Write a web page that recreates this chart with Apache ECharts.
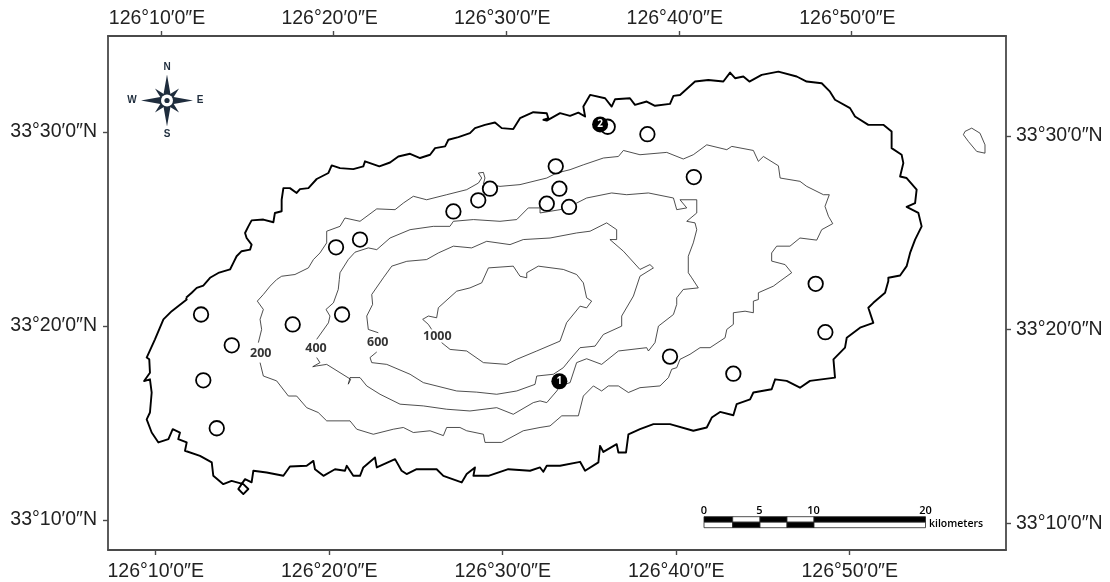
<!DOCTYPE html>
<html><head><meta charset="utf-8">
<style>html,body{margin:0;padding:0;background:#fff}#c{width:1110px;height:582px}</style>
<script src="https://cdn.jsdelivr.net/npm/echarts@6/dist/echarts.min.js"></script>
</head><body><div id="c"></div>
<script>
// All positions: arc-minutes east of 126 deg (x) and north of 33 deg (y)
const lonTicks=[10,20,30,40,50];
const latTicks=[10,20,30];
const coast=[[11.45,21.45],[11.78,21.71],[12.07,21.96],[12.45,22.08],[12.84,22.48],[13.32,22.73],[14.00,22.91],[14.19,23.25],[14.38,23.59],[14.67,23.85],[15.16,23.93],[15.25,24.19],[14.96,24.53],[14.87,24.79],[15.06,25.13],[15.25,25.44],[15.93,25.48],[16.51,25.34],[16.60,25.82],[16.99,25.91],[16.99,26.50],[17.09,27.10],[17.47,27.10],[17.86,26.85],[18.05,27.05],[18.54,27.10],[19.02,27.57],[19.70,27.88],[19.89,28.27],[20.37,28.13],[21.14,28.08],[21.72,28.22],[21.82,28.48],[22.11,28.39],[22.65,28.22],[23.27,28.42],[23.75,28.73],[24.43,28.87],[25.01,28.65],[25.59,28.82],[25.88,29.16],[26.46,29.25],[26.65,29.59],[27.23,29.73],[27.90,29.93],[28.19,30.19],[28.77,30.36],[29.35,30.48],[29.74,30.19],[30.41,30.14],[30.80,30.70],[31.57,31.01],[32.35,30.96],[32.44,30.70],[32.15,30.62],[32.35,30.58],[33.12,30.96],[33.70,30.82],[34.18,30.99],[34.57,30.79],[34.47,31.30],[34.86,31.90],[35.73,31.73],[36.11,31.30],[36.31,31.68],[37.17,31.73],[37.46,31.39],[38.14,31.56],[38.62,31.34],[39.49,31.44],[39.69,31.85],[40.07,31.90],[40.94,32.59],[41.71,32.67],[42.58,32.59],[42.97,33.05],[43.26,32.76],[43.74,32.85],[44.09,32.59],[44.80,32.93],[45.77,33.10],[46.83,32.85],[47.41,32.59],[48.28,32.50],[48.76,32.07],[49.05,31.65],[49.92,31.22],[50.21,30.79],[50.98,30.36],[51.85,30.36],[52.33,30.02],[52.33,29.16],[52.91,28.82],[53.01,28.39],[52.82,27.70],[53.20,27.62],[53.78,27.02],[53.69,26.33],[53.20,26.13],[53.88,25.82],[54.07,25.13],[53.69,24.45],[53.40,23.76],[53.20,23.08],[52.82,22.60],[52.14,22.48],[52.14,22.31],[51.95,21.71],[51.27,21.19],[50.98,20.94],[51.27,20.16],[50.50,19.91],[49.73,19.39],[49.63,18.88],[48.96,18.28],[49.05,17.34],[47.60,17.17],[47.02,16.82],[46.25,17.17],[45.58,17.25],[45.38,16.74],[44.32,16.57],[44.13,16.22],[43.35,15.97],[43.16,15.40],[42.39,15.57],[41.91,15.28],[41.62,14.77],[40.84,14.60],[39.49,14.94],[38.53,14.94],[37.75,14.68],[37.08,14.42],[36.94,13.48],[36.50,13.48],[36.40,13.91],[35.63,13.51],[35.44,13.82],[35.34,12.97],[34.57,12.54],[34.28,13.00],[33.12,12.80],[32.35,12.80],[32.15,12.49],[31.96,12.71],[31.38,12.54],[30.12,12.62],[28.97,12.28],[28.10,12.28],[28.19,12.71],[27.71,12.37],[27.42,11.94],[26.36,12.28],[25.97,12.62],[24.81,12.62],[24.23,12.37],[23.94,12.54],[23.56,13.14],[22.50,12.71],[22.40,13.22],[21.72,12.71],[21.53,12.28],[21.14,12.28],[20.76,12.80],[20.66,12.54],[20.08,12.62],[19.41,12.28],[18.92,12.62],[18.83,13.05],[18.44,12.80],[17.47,12.76],[17.09,12.28],[16.12,12.45],[15.35,12.54],[15.25,11.94],[14.87,12.11],[14.67,11.85],[14.48,11.60],[14.77,11.34],[15.06,11.60],[14.77,11.85],[14.09,12.02],[13.61,11.85],[13.03,12.28],[12.94,12.97],[12.26,13.31],[11.39,13.57],[11.49,14.00],[11.00,14.17],[11.10,14.51],[10.68,14.68],[10.43,14.17],[9.85,14.00],[9.46,14.51],[9.17,15.19],[9.36,15.54],[9.46,16.57],[9.36,17.25],[9.02,17.16],[9.36,17.59],[9.32,18.28],[9.17,18.37],[9.65,19.31],[10.14,20.34],[10.62,20.76],[11.49,21.36],[11.45,21.45]];
const islet=[[56.58,30.02],[56.97,30.19],[57.45,29.93],[57.74,29.33],[57.74,28.90],[57.26,28.99],[56.78,29.50],[56.49,29.85],[56.58,30.02]];
const contour200=[[15.64,19.14],[15.83,19.82],[15.74,20.34],[15.93,20.85],[15.58,21.28],[15.93,21.62],[16.32,22.05],[16.70,22.39],[16.99,22.56],[17.76,22.65],[18.54,22.99],[18.83,23.42],[19.21,23.76],[19.60,24.28],[19.60,24.88],[20.37,25.13],[20.66,25.56],[21.53,25.39],[22.50,26.03],[23.56,25.99],[24.04,26.33],[24.62,26.68],[25.39,26.50],[26.55,26.76],[27.71,27.02],[28.39,27.36],[28.58,27.62],[28.39,27.88],[28.68,27.91],[28.77,27.62],[28.68,27.33],[29.64,27.19],[30.80,27.28],[32.35,27.62],[32.93,27.88],[33.70,28.05],[34.47,28.30],[35.63,28.65],[36.50,28.73],[36.79,29.04],[37.75,28.82],[39.30,28.94],[40.26,28.60],[40.84,28.82],[41.62,29.33],[42.78,29.08],[43.07,29.25],[44.32,29.04],[44.61,28.48],[44.90,28.73],[45.77,28.25],[45.87,27.62],[47.02,27.45],[47.41,27.19],[48.38,26.76],[48.72,26.76],[48.47,26.16],[48.67,25.65],[48.92,25.27],[48.28,24.96],[47.99,24.42],[47.02,24.53],[46.44,24.11],[45.67,24.11],[45.38,23.76],[45.38,23.34],[46.16,23.16],[46.54,22.74],[45.87,22.31],[45.48,22.05],[44.61,21.71],[44.61,21.36],[44.32,21.28],[44.32,20.68],[43.84,20.76],[43.16,20.68],[43.16,20.08],[42.78,19.82],[42.68,19.39],[41.81,18.88],[41.23,18.88],[40.65,18.54],[40.07,18.28],[39.88,17.85],[39.59,17.77],[39.40,17.34],[38.91,16.91],[37.75,16.82],[37.08,16.57],[36.50,16.91],[35.92,16.91],[35.53,16.65],[35.05,16.91],[34.47,16.39],[34.18,15.37],[33.22,15.37],[32.54,14.85],[31.96,14.77],[30.99,14.60],[29.74,14.00],[28.77,14.00],[28.68,14.42],[27.71,14.60],[27.32,14.77],[26.55,14.77],[26.36,14.35],[25.59,14.60],[24.62,14.51],[24.04,14.77],[23.46,14.68],[22.30,14.42],[21.34,14.68],[20.95,15.11],[19.60,15.11],[19.11,15.54],[18.44,15.79],[17.86,16.39],[17.38,16.39],[16.70,17.17],[15.93,17.42],[15.74,18.11]];
const contour400=[[19.02,19.31],[19.70,20.16],[19.79,20.51],[19.56,20.85],[19.99,21.19],[20.27,21.88],[20.33,22.39],[20.37,22.74],[20.85,23.42],[21.24,23.80],[22.01,24.02],[22.50,23.93],[23.27,24.53],[24.43,24.96],[25.78,25.13],[26.74,25.13],[26.94,25.39],[28.10,25.48],[29.64,25.39],[30.61,25.48],[31.28,26.08],[31.96,26.08],[31.96,25.82],[33.12,25.99],[34.08,26.33],[34.66,26.59],[36.11,26.85],[36.98,26.76],[38.24,26.85],[39.69,26.59],[39.88,25.99],[40.46,26.08],[40.07,26.50],[41.04,26.50],[41.04,25.82],[40.46,25.39],[40.94,25.31],[41.04,24.96],[40.84,24.28],[40.55,23.59],[40.55,22.74],[40.75,22.48],[41.13,21.96],[40.26,21.88],[39.88,21.45],[39.88,21.11],[39.69,20.59],[38.82,19.99],[38.62,19.14],[38.24,18.71],[38.14,18.88],[36.50,18.71],[35.53,18.02],[34.66,18.31],[34.08,18.11],[33.70,17.08],[33.12,16.91],[32.93,16.65],[32.35,16.05],[31.96,16.14],[31.57,16.05],[30.41,15.45],[29.45,15.79],[27.90,15.62],[26.55,15.71],[25.20,15.88],[23.85,15.97],[22.69,16.48],[21.92,16.91],[21.53,17.34],[20.95,17.34],[20.85,17.00],[20.99,17.25],[19.60,18.02],[19.02,17.94],[18.79,17.90],[19.21,18.11],[19.02,18.37]];
const contour600=[[22.59,19.65],[22.01,19.82],[21.92,20.51],[22.26,21.11],[22.21,21.62],[22.88,22.48],[23.37,23.08],[24.24,23.33],[25.39,23.42],[26.07,23.76],[26.94,24.11],[28.00,24.02],[28.87,24.36],[30.22,24.19],[30.99,24.45],[32.54,24.53],[34.08,24.79],[34.86,24.88],[35.82,25.31],[36.40,24.96],[36.40,24.45],[36.01,24.45],[36.79,23.85],[37.75,22.91],[38.33,23.16],[38.53,22.99],[37.75,22.56],[37.37,21.54],[36.69,20.51],[36.69,19.99],[35.63,19.56],[35.15,18.96],[34.28,18.88],[33.70,18.28],[33.31,17.85],[32.73,17.51],[31.77,17.42],[31.67,16.99],[30.61,16.65],[29.45,16.48],[28.29,16.59],[27.13,16.65],[25.20,17.08],[24.43,17.51],[23.08,18.02],[22.21,18.11],[22.11,18.37],[22.50,18.66]];
const contour1000=[[26.26,19.14],[26.75,18.79],[27.71,18.71],[28.68,18.11],[30.03,18.02],[30.61,18.28],[31.77,18.71],[33.12,19.22],[33.50,20.17],[34.28,21.02],[34.66,20.93],[34.95,21.28],[34.66,21.45],[34.47,22.22],[34.08,22.65],[33.31,22.91],[31.86,23.08],[31.19,22.74],[31.19,22.48],[30.80,22.56],[30.41,23.08],[28.97,22.99],[28.58,22.22],[27.90,21.96],[27.13,21.79],[26.07,20.94],[25.97,20.42],[25.49,20.51],[25.16,20.34],[25.49,20.08],[25.68,19.82]];
const contourLabels=[[15.78,18.59,'200'],[18.98,18.85,'400'],[22.56,19.14,'600'],[26.01,19.48,'1000']];
const sites=[[20.14,24.05],[21.53,24.45],[26.94,25.90],[28.38,26.47],[29.06,27.07],[32.87,28.22],[33.08,27.07],[32.35,26.30],[33.64,26.13],[35.88,30.26],[38.18,29.88],[40.87,27.67],[47.93,22.17],[12.32,20.59],[14.10,19.00],[12.45,17.20],[13.23,14.73],[17.63,20.08],[20.49,20.59],[48.49,19.68],[39.49,18.42],[43.16,17.54]];
const keySites=[[33.08,17.15,'1'],[35.44,30.38,'2']];
const scaleKm=[0,5,10,20];

const FONT='"Liberation Sans",Arial,sans-serif', SMALL='"Open Sans",sans-serif';
const frame={color:'#4a4a4a',width:1.8};
const lonFmt=v=>`126°${v}′0″E`, latFmt=v=>`33°${v}′0″N`;
function axis(pos,min,max,ticks,fmt,extra){
  return {type:'value',position:pos,min,max,scale:true,
    axisLine:{show:true,onZero:false,lineStyle:frame},
    axisTick:{show:true,length:5,customValues:ticks,lineStyle:{color:'#4a4a4a',width:1.4}},
    axisLabel:Object.assign({customValues:ticks,formatter:fmt,color:'#222',fontFamily:FONT,fontSize:19.5,margin:11,hideOverlap:false},extra||{}),
    splitLine:{show:false}};
}
function line(data,width){
  return {type:'line',data,symbol:'none',silent:true,animation:false,z:2,
    lineStyle:{color:width>1?'#000':'#222',width,join:'round'}};
}
const cx=167,cy=100.5;
function star(r,w,rot,fill){
  const pts=[];
  for(let i=0;i<8;i++){const a=rot+i*Math.PI/4;const rr=i%2?w:r;pts.push([cx+rr*Math.sin(a),cy-rr*Math.cos(a)]);}
  return {type:'polygon',shape:{points:pts},style:{fill},silent:true};
}
function scaleCell(col,row,fill){
  const xs=[704,732.7,760,787,814,925.5];
  return {type:'rect',shape:{x:xs[col],y:516.7+row*5.5,width:xs[col+1]-xs[col],height:5.5},style:{fill,stroke:'#222',lineWidth:0.8},silent:true};
}
const kmX={0:704,5:759.5,10:813.5,20:925.5};
const graphic=[
  star(17,4.5,Math.PI/4,'#1f2d3d'),star(26,5.5,0,'#1f2d3d'),
  {type:'circle',shape:{cx,cy,r:6},style:{fill:'#fff'},silent:true},
  {type:'circle',shape:{cx,cy,r:2.6},style:{fill:'#1f2d3d'},silent:true}
];
[['N',167,67],['S',167,134.5],['W',132,100.5],['E',200,100.5]].forEach(t=>graphic.push({type:'text',x:t[1],y:t[2],silent:true,style:{text:t[0],fill:'#1f2d3d',font:'bold 10px '+FONT,align:'center',verticalAlign:'middle'}}));
[0,1,2,3,4].forEach(i=>{graphic.push(scaleCell(i,0,i%2?'#fff':'#000'));graphic.push(scaleCell(i,1,i%2?'#000':'#fff'));});
scaleKm.forEach(k=>graphic.push({type:'text',x:kmX[k],y:511,silent:true,style:{text:String(k),fill:'#000',font:'600 11px '+SMALL,align:'center',verticalAlign:'middle'}}));
graphic.push({type:'text',x:929,y:524,silent:true,style:{text:'kilometers',fill:'#000',font:'600 10.5px '+SMALL,align:'left',verticalAlign:'middle'}});

const chart=echarts.init(document.getElementById('c'),null,{renderer:'canvas'});
chart.setOption({
  animation:false,backgroundColor:'#fff',
  grid:{left:108,right:104,top:36,bottom:31,containLabel:false},
  xAxis:[axis('top',6.929,58.957,lonTicks,lonFmt,{padding:[0,8,0,0],margin:7}),axis('bottom',7.251,59.009,lonTicks,lonFmt,{margin:12})],
  yAxis:[axis('left',8.458,34.936,latTicks,latFmt),axis('right',8.625,35.151,latTicks,latFmt,{margin:10})],
  graphic,
  series:[
    line(coast,1.9),line(islet,0.8),line(contour200,0.8),line(contour400,0.8),line(contour600,0.8),line(contour1000,0.8),
    {type:'scatter',data:contourLabels.map(d=>({value:[d[0],d[1]],name:d[2]})),symbolSize:1,itemStyle:{color:'transparent'},silent:true,z:3,
     label:{show:true,position:'inside',formatter:'{b}',color:'#000',fontFamily:SMALL,fontWeight:700,fontSize:12.5}},
    {type:'scatter',data:sites,symbol:'circle',symbolSize:14.5,silent:true,z:4,itemStyle:{color:'#fff',borderColor:'#000',borderWidth:1.8,opacity:1}},
    {type:'scatter',data:keySites.map(d=>({value:[d[0],d[1]],name:d[2]})),symbol:'circle',symbolSize:16,silent:true,z:5,itemStyle:{color:'#000',opacity:1},
     label:{show:true,position:'inside',formatter:'{b}',color:'#fff',fontFamily:SMALL,fontWeight:700,fontSize:10}}
  ]
});
</script></body></html>
